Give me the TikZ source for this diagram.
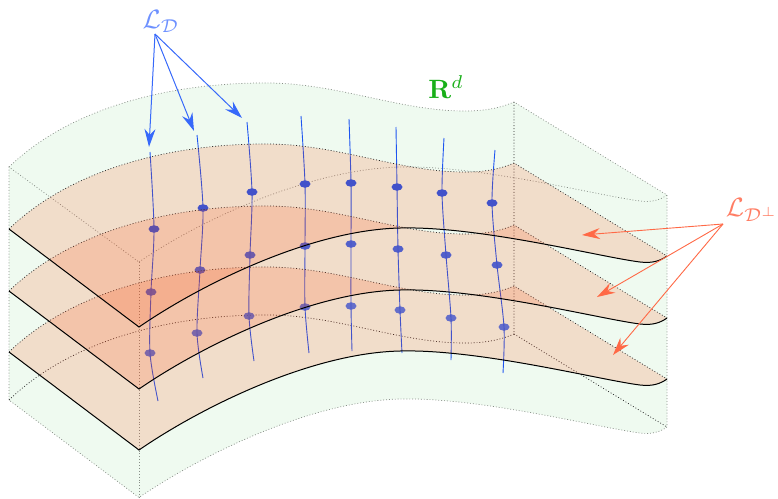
\documentclass[tikz,border=0pt]{standalone}
\usepackage{amsmath}
\usetikzlibrary{arrows.meta,shapes.geometric}
\definecolor{boxfill}{RGB}{239,250,240}
\definecolor{boxline}{RGB}{135,142,135}
\definecolor{sheettint}{RGB}{255,70,8}
\definecolor{fibreblue}{RGB}{30,85,240}
\definecolor{arrowblue}{RGB}{55,105,250}
\definecolor{labelblue}{RGB}{110,145,255}
\definecolor{arrowred}{RGB}{255,105,70}
\definecolor{labelred}{RGB}{255,125,100}
\definecolor{labelgreen}{RGB}{25,175,25}
\newcommand{\backedge}{(9,229) .. controls (70,170) and (170,143) .. (270,144) .. controls (340,145) and (400,172) .. (465,172) .. controls (482,172) and (498,170) .. (514,163)}
\newcommand{\frontedge}{(139,327) .. controls (200,285) and (310,230) .. (400,228) .. controls (480,226) and (600,257) .. (640,262) .. controls (652,263.5) and (660,261) .. (667,256)}
\newcommand{\frontback}{(667,256) .. controls (660,261) and (652,263.5) .. (640,262) .. controls (600,257) and (480,226) .. (400,228) .. controls (310,230) and (200,285) .. (139,327)}
\tikzset{
  x=1pt,y=-1pt,
  >={Stealth[length=18pt,width=11pt,inset=6pt]},
  boxedge/.style={draw=boxline,line width=0.7pt,dash pattern=on 0.9pt off 2pt},
  darkedge/.style={draw=black!85,line width=0.7pt,dash pattern=on 0.9pt off 2pt},
  sheetfill/.style={fill=sheettint,fill opacity=0.16},
  sheetline/.style={draw=black,line width=1pt},
  fibre/.style={draw=fibreblue,line width=0.9pt,smooth},
  spot/.style={ellipse,fill=fibreblue,inner sep=0pt,minimum width=11pt,minimum height=7.5pt},
  bluearrow/.style={->,draw=arrowblue,line width=1pt},
  redarrow/.style={->,draw=arrowred,line width=0.9pt},
  mathlabel/.style={scale=2.65,inner sep=0pt}
}
\newcommand{\sheet}[1]{
  \begin{scope}[shift={(0,#1)}]
    \fill[sheetfill] \backedge -- \frontback -- cycle;
    \draw[darkedge] \backedge -- (667,256);
    \draw[sheetline] (9,229) -- \frontedge;
  \end{scope}
}
\begin{document}
\begin{tikzpicture}
  \useasboundingbox (0,0) rectangle (778,498);

  % ambient box
  \fill[boxfill] (9,167) .. controls (70,108) and (170,82) .. (270,83) .. controls (340,84) and (400,111) .. (465,111) .. controls (482,111) and (498,109) .. (514,102)
    -- (667,195) -- (667,427) .. controls (660,432) and (652,434.5) .. (640,433) .. controls (600,428) and (480,397) .. (400,399) .. controls (310,401) and (200,456) .. (139,497.5)
    -- (9,400) -- cycle;
  \draw[boxedge] (9,167) .. controls (70,108) and (170,82) .. (270,83) .. controls (340,84) and (400,111) .. (465,111) .. controls (482,111) and (498,109) .. (514,102) -- (667,195) -- (667,427);
  \draw[boxedge] (667,427) .. controls (660,432) and (652,434.5) .. (640,433) .. controls (600,428) and (480,397) .. (400,399) .. controls (310,401) and (200,456) .. (139,497.5) -- (9,400) -- (9,167) -- (139,262);
  \draw[boxedge] (139,262) .. controls (200,220) and (310,169) .. (400,167) .. controls (480,165) and (600,196) .. (640,201) .. controls (652,202.5) and (660,200) .. (667,195);
  \draw[boxedge] (139,262) -- (139,497.5);
  \draw[darkedge] (514,102) -- (514,334) -- (667,427);
  \begin{scope}[shift={(0,171)}]
    \draw[darkedge] \backedge;
  \end{scope}

  % fibres
  \draw[fibre] plot coordinates {(150,152) (154,229) (151,292) (150,353) (158,401)};
  \draw[fibre] plot coordinates {(197,135) (203,208) (200,270) (197,333) (203,378)};
  \draw[fibre] plot coordinates {(247,122) (252,192) (250,255) (249,316) (254,361)};
  \draw[fibre] plot coordinates {(301,116) (305,184) (305,246) (305,307) (309,353)};
  \draw[fibre] plot coordinates {(349,119) (351,183) (351,244) (351,306) (352,351)};
  \draw[fibre] plot coordinates {(396,127) (397,187) (398,249) (400,310) (402,353)};
  \draw[fibre] plot coordinates {(444,138) (442,193) (446,255) (451,318) (451,360)};
  \draw[fibre] plot coordinates {(495,150) (492,203) (497,265) (504,327) (503,373)};

  \foreach \x/\y [count=\n] in {154/229,203/208,252/192,305/184,351/183,397/187,442/193,492/203}
    \node[spot] (spotA\n) at (\x,\y) {};
  \foreach \x/\y [count=\n] in {151/292,200/270,250/255,305/246,351/244,398/249,446/255,497/265}
    \node[spot,opacity=0.9] (spotB\n) at (\x,\y) {};
  \foreach \x/\y [count=\n] in {150/353,197/333,249/316,305/307,351/306,400/310,451/318,504/327}
    \node[spot,opacity=0.8] (spotC\n) at (\x,\y) {};

  % sheets
  \sheet{123}
  \sheet{62}
  \sheet{0}

  % labels
  \node[mathlabel,text=labelblue] (ldlabel) at (161,21) {$\mathcal{L}_{\mathcal{D}}$};
  \node[mathlabel,text=labelred] (ldperp) at (752,210) {$\mathcal{L}_{\mathcal{D}^\perp}$};
  \node[mathlabel,text=labelgreen] (rdlabel) at (446,87) {$\mathbf{R}^d$};

  \coordinate (bluefrom) at (155,34);
  \coordinate (blueone) at (149,147);
  \coordinate (bluetwo) at (194,131);
  \coordinate (bluethree) at (242,118);
  \coordinate (redfrom) at (723,224);
  \coordinate (redone) at (582,235);
  \coordinate (redtwo) at (597,297);
  \coordinate (redthree) at (613,355);

  \draw[bluearrow] (bluefrom) -- (blueone);
  \draw[bluearrow] (bluefrom) -- (bluetwo);
  \draw[bluearrow] (bluefrom) -- (bluethree);
  \draw[redarrow] (redfrom) -- (redone);
  \draw[redarrow] (redfrom) -- (redtwo);
  \draw[redarrow] (redfrom) -- (redthree);
\end{tikzpicture}
\end{document}
